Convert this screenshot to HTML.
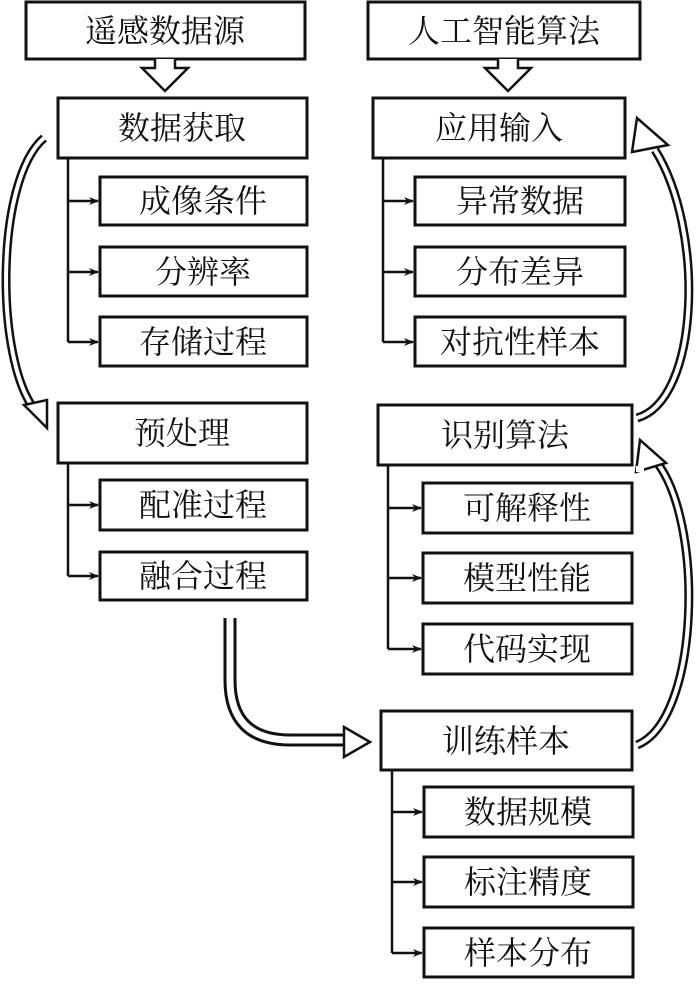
<!DOCTYPE html>
<html><head><meta charset="utf-8"><style>
body{margin:0;background:#fff;}
svg text{font-family:"Liberation Serif","Noto Serif CJK SC",serif;fill:#111;text-anchor:middle;dominant-baseline:central;}
</style></head><body>
<svg width="700" height="979" viewBox="0 0 700 979" xmlns="http://www.w3.org/2000/svg">
<defs><marker id="a" markerWidth="10" markerHeight="8" refX="9" refY="4" orient="auto" markerUnits="userSpaceOnUse"><path d="M0,0 L10,4 L0,8 L3,4 z" fill="#111"/></marker></defs>
<g fill="#fff" stroke="#111" stroke-width="3">
<rect x="26" y="2" width="279" height="57"/>
<rect x="58" y="98" width="249" height="60"/>
<rect x="100" y="177" width="207" height="48"/>
<rect x="100" y="247" width="207" height="49"/>
<rect x="100" y="317" width="207" height="49"/>
<rect x="58" y="403" width="249" height="60"/>
<rect x="100" y="480" width="207" height="50"/>
<rect x="100" y="552" width="207" height="48"/>
<rect x="368" y="2" width="272" height="57"/>
<rect x="373" y="98" width="252" height="60"/>
<rect x="415" y="177" width="210" height="48"/>
<rect x="415" y="247" width="210" height="49"/>
<rect x="415" y="317" width="210" height="49"/>
<rect x="378" y="405" width="254" height="60"/>
<rect x="423" y="483" width="209" height="50"/>
<rect x="423" y="553" width="209" height="50"/>
<rect x="423" y="624" width="209" height="50"/>
<rect x="381" y="711" width="251" height="59"/>
<rect x="424" y="787" width="209" height="50"/>
<rect x="424" y="857" width="209" height="50"/>
<rect x="424" y="928" width="209" height="49"/>
</g>
<g fill="none" stroke="#111" stroke-width="2.5">
<path d="M68,158 V342"/><path d="M68,201 H98" marker-end="url(#a)"/><path d="M68,272 H98" marker-end="url(#a)"/><path d="M68,342 H98" marker-end="url(#a)"/>
<path d="M68,463 V576"/><path d="M68,505 H98" marker-end="url(#a)"/><path d="M68,576 H98" marker-end="url(#a)"/>
<path d="M383,158 V342"/><path d="M383,201 H413" marker-end="url(#a)"/><path d="M383,272 H413" marker-end="url(#a)"/><path d="M383,342 H413" marker-end="url(#a)"/>
<path d="M388,465 V649"/><path d="M388,508 H421" marker-end="url(#a)"/><path d="M388,578 H421" marker-end="url(#a)"/><path d="M388,649 H421" marker-end="url(#a)"/>
<path d="M392,770 V953"/><path d="M392,812 H422" marker-end="url(#a)"/><path d="M392,882 H422" marker-end="url(#a)"/><path d="M392,953 H422" marker-end="url(#a)"/>
</g>
<!-- hollow down arrows -->
<path d="M155,59 V68 H142 L165,91 L188,68 H175 V59" fill="#fff" stroke="#111" stroke-width="2.5"/>
<path d="M498,59 V68 H485 L508,91 L531,68 H518 V59" fill="#fff" stroke="#111" stroke-width="2.5"/>
<!-- curved hollow arrows -->
<g fill="none">
<path d="M44,138 C-5,180 -5,360 35,410" stroke="#111" stroke-width="9"/>
<path d="M44,138 C-5,180 -5,360 35,410" stroke="#fff" stroke-width="4"/>
<path d="M230,618 V680 Q230,740 290,740 H345" stroke="#111" stroke-width="13"/>
<path d="M230,618 V680 Q230,740 290,740 H347" stroke="#fff" stroke-width="7"/>
<path d="M637,745 C700,720 705,520 655,460" stroke="#111" stroke-width="9"/>
<path d="M637,745 C700,720 705,520 655,460" stroke="#fff" stroke-width="4"/>
<path d="M637,418 C700,400 705,230 655,150" stroke="#111" stroke-width="9"/>
<path d="M637,418 C700,400 705,230 655,150" stroke="#fff" stroke-width="4"/>
</g>
<g fill="#fff" stroke="#111" stroke-width="2.5">
<path d="M24,405 L47,428 L47,400 z"/>
<path d="M344,727 L370,742 L344,757 z"/>
<path d="M640,440 L636,472 L666,463 z"/>
<path d="M637,118 L632,152 L668,145 z"/>
</g>
<rect x="636" y="466" width="8" height="6" fill="#fff"/>
<g font-size="32">
<text x="165" y="31">遥感数据源</text>
<text x="182" y="128">数据获取</text>
<text x="203" y="201">成像条件</text>
<text x="203" y="272">分辨率</text>
<text x="203" y="342">存储过程</text>
<text x="182" y="433">预处理</text>
<text x="203" y="505">配准过程</text>
<text x="203" y="576">融合过程</text>
<text x="504" y="31">人工智能算法</text>
<text x="499" y="128">应用输入</text>
<text x="520" y="201">异常数据</text>
<text x="520" y="272">分布差异</text>
<text x="520" y="342">对抗性样本</text>
<text x="505" y="435">识别算法</text>
<text x="527" y="508">可解释性</text>
<text x="527" y="578">模型性能</text>
<text x="527" y="649">代码实现</text>
<text x="506" y="741">训练样本</text>
<text x="528" y="812">数据规模</text>
<text x="528" y="882">标注精度</text>
<text x="528" y="953">样本分布</text>
</g>
</svg>
</body></html>
